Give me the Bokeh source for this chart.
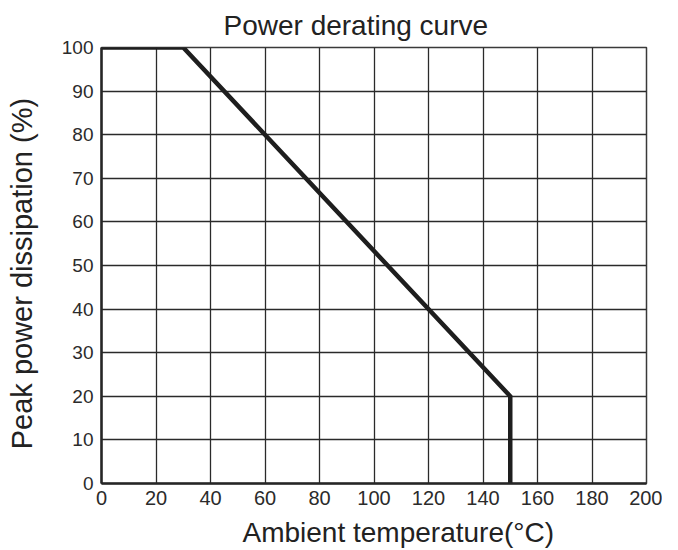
from bokeh.plotting import figure
from bokeh.models import Range1d, FixedTicker, Title
from bokeh.embed import file_html
from bokeh.resources import INLINE

# ---- data ----
temperature = [0, 30, 150, 150]
power = [100, 100, 20, 0]
x_ticks = [0, 20, 40, 60, 80, 100, 120, 140, 160, 180, 200]
y_ticks = [0, 10, 20, 30, 40, 50, 60, 70, 80, 90, 100]
title_text = "Power derating curve"
x_label = "Ambient temperature(°C)"
y_label = "Peak  power  dissipation (%)"

FONT = "Liberation Sans"
INK = "#1e1e1e"
TXT = "#222222"

p = figure(width=662, height=558, output_backend="svg", toolbar_location=None,
           x_range=Range1d(0, 200), y_range=Range1d(0, 100),
           min_border_left=101, min_border_right=16, min_border_top=46,
           min_border_bottom=74, title=None)
p.background_fill_color = "white"
p.border_fill_color = "white"
p.outline_line_color = "#3a3a3a"
p.outline_line_width = 1.5

# grid
p.xgrid.ticker = FixedTicker(ticks=x_ticks)
p.ygrid.ticker = FixedTicker(ticks=y_ticks)
for g in (p.xgrid, p.ygrid):
    g.grid_line_color = "#2a2a2a"
    g.grid_line_width = 1.3
    g.grid_line_alpha = 1.0

# axes
p.xaxis.ticker = FixedTicker(ticks=x_ticks)
p.yaxis.ticker = FixedTicker(ticks=y_ticks)
for ax in (p.xaxis, p.yaxis):
    ax.axis_line_color = "#262626"
    ax.axis_line_width = 2.5
    ax.major_tick_in = 0
    ax.major_tick_out = 0
    ax.minor_tick_in = 0
    ax.minor_tick_out = 0
    ax.major_label_text_font = FONT
    ax.major_label_text_color = "#2b2b2b"
p.xaxis.major_label_text_font_size = "20px"
p.xaxis.major_label_standoff = 7
p.yaxis.major_label_text_font_size = "19px"
p.yaxis.major_label_standoff = 8

p.yaxis.axis_label = y_label
p.yaxis.axis_label_text_font = FONT
p.yaxis.axis_label_text_font_size = "29px"
p.yaxis.axis_label_text_font_style = "normal"
p.yaxis.axis_label_text_color = TXT
p.yaxis.axis_label_standoff = 21

# curve
p.line(temperature, power, line_width=4.5, line_color=INK, line_join="miter")

# title and x label
p.add_layout(Title(text=title_text, align="left", offset=122, standoff=14,
                   text_font=FONT, text_font_size="28px",
                   text_font_style="normal", text_color=TXT), "above")
p.add_layout(Title(text=x_label, align="left", offset=141, standoff=18,
                   vertical_align="top",
                   text_font=FONT, text_font_size="28px",
                   text_font_style="normal", text_color=TXT), "below")

open("out.html", "w").write(file_html(p, INLINE))
